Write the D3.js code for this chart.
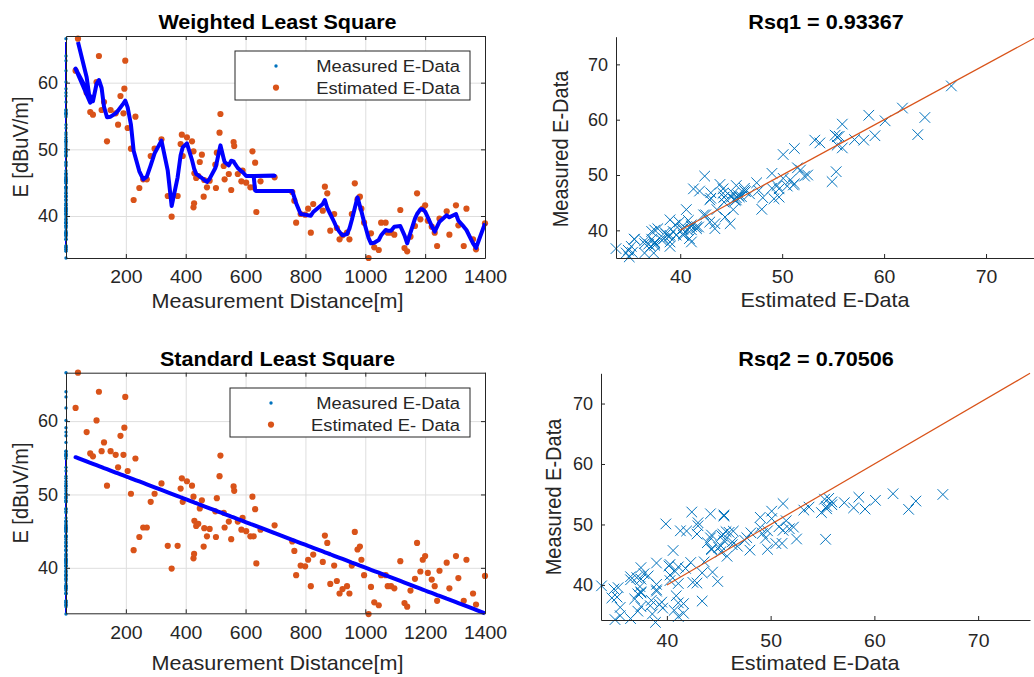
<!DOCTYPE html>
<html>
<head>
<meta charset="utf-8">
<script src="https://cdn.jsdelivr.net/npm/d3@7"></script>
<style>
  body { margin: 0; background: #fff; }
  svg text { font-family: "Liberation Sans", Arial, Helvetica, sans-serif; fill: #262626; }
</style>
</head>
<body>
<svg id="chart" width="1034" height="677"></svg>
<script>
// measurement points, in the order they were plotted
const distance = [
  40, 69, 81, 32, 90, 102, 110, 119, 127, 137,
  149, 166, 174, 182, 192, 195, 198, 206, 217, 226,
  232, 245, 258, 270, 283, 296, 319, 340, 353, 373,
  383, 387, 390, 404, 421, 426, 426, 428, 429, 435,
  442, 447, 454, 460, 462, 471, 480, 499, 501, 504,
  513, 516, 527, 530, 544, 552, 560, 562, 574, 586,
  590, 602, 616, 623, 697, 627, 632, 636, 650, 756,
  763, 769, 784, 799, 809, 818, 826, 858, 865, 873,
  883, 896, 905, 914, 924, 939, 947, 955, 965, 974,
  982, 987, 996, 1011, 1019, 1030, 1045, 1053, 1068, 1075,
  1086, 1097, 1117, 1131, 1140, 1151, 1166, 1173, 1184, 1192,
  1200, 1209, 1222, 1232, 1240, 1248, 1272, 1281, 1303, 1311,
  1329, 1338, 1360, 1370, 1400
];
const eData = [
  66.6, 58.5, 55.6, 61.8, 55.2, 60.1, 64.0, 55.9, 57.1, 51.2,
  55.9, 55.4, 53.7, 58.0, 55.4, 59.1, 63.3, 53.2, 50.1, 42.4,
  54.9, 44.2, 45.5, 45.5, 49.0, 50.1, 51.5, 43.0, 39.9, 43.0,
  50.8, 52.2, 49.0, 51.8, 51.2, 49.7, 41.3, 41.9, 46.4, 45.7,
  46.0, 48.1, 49.2, 42.9, 45.4, 44.3, 45.3, 47.7, 44.2, 49.5,
  52.5, 55.3, 47.5, 45.5, 46.3, 43.9, 51.1, 50.5, 46.3, 45.2,
  46.8, 45.0, 44.3, 49.7, 45.8, 44.3, 48.0, 40.6, 45.2, 43.6,
  42.3, 39.0, 40.3, 40.2, 41.1, 37.5, 41.8, 40.8, 44.4, 43.4,
  37.8, 40.3, 38.2, 36.5, 37.1, 37.5, 36.5, 40.3, 44.9, 42.5,
  42.9, 41.1, 39.0, 33.7, 37.4, 35.3, 34.9, 39.0, 39.0, 37.5,
  37.5, 37.2, 40.9, 35.2, 34.7, 36.9, 38.5, 43.4, 39.5, 41.1,
  41.6, 39.3, 38.4, 37.5, 35.5, 39.6, 40.7, 37.2, 41.6, 38.6,
  35.5, 41.1, 36.5, 35.0, 38.9
];
// weighted least square estimate at each point
const wlsFit = [
  66.1, 60.8, 57.0, 62.1, 57.2, 59.8, 60.4, 59.2, 56.4, 54.8,
  54.9, 55.4, 55.8, 56.3, 56.9, 57.1, 57.3, 56.3, 53.7, 49.8,
  48.8, 46.7, 45.5, 45.9, 47.6, 49.4, 51.3, 46.8, 41.5, 45.8,
  49.1, 49.8, 50.3, 50.9, 48.4, 47.5, 47.5, 47.1, 47.0, 46.3,
  46.1, 45.9, 45.7, 45.5, 45.4, 45.1, 45.6, 47.2, 47.5, 48.1,
  50.0, 50.6, 48.6, 48.1, 47.6, 48.3, 48.2, 48.0, 47.2, 46.7,
  46.6, 46.0, 46.0, 46.0, 46.05, 46.0, 43.8, 43.75, 43.75, 43.75,
  42.8, 41.9, 40.3, 40.2, 40.1, 40.05, 40.6, 41.8, 42.4, 41.2,
  40.3, 39.1, 38.2, 37.6, 37.1, 37.3, 38.1, 39.4, 41.2, 42.8,
  41.5, 40.7, 39.1, 36.7, 35.9, 36.0, 36.4, 37.1, 37.9, 37.8,
  37.8, 38.4, 38.5, 37.1, 35.9, 37.5, 39.6, 40.3, 41.0, 41.0,
  40.65, 39.8, 38.5, 37.65, 38.4, 39.15, 40.1, 39.8, 40.3, 39.3,
  38.4, 37.9, 35.9, 35.2, 38.9
];
// standard least square estimate at each point
const slsFit = [
  54.96, 54.50, 54.32, 55.08, 54.18, 53.99, 53.87, 53.73, 53.60, 53.45,
  53.26, 52.99, 52.87, 52.75, 52.59, 52.55, 52.50, 52.38, 52.20, 52.06,
  51.97, 51.77, 51.57, 51.38, 51.18, 50.97, 50.62, 50.29, 50.09, 49.78,
  49.62, 49.56, 49.51, 49.29, 49.03, 48.95, 48.95, 48.92, 48.90, 48.81,
  48.70, 48.62, 48.51, 48.42, 48.39, 48.25, 48.11, 47.82, 47.79, 47.74,
  47.60, 47.55, 47.38, 47.33, 47.12, 46.99, 46.87, 46.84, 46.65, 46.46,
  46.40, 46.21, 45.99, 45.89, 44.74, 45.83, 45.75, 45.69, 45.47, 43.82,
  43.71, 43.62, 43.38, 43.15, 42.99, 42.86, 42.73, 42.23, 42.12, 42.00,
  41.85, 41.64, 41.50, 41.36, 41.21, 40.97, 40.85, 40.72, 40.57, 40.43,
  40.30, 40.23, 40.09, 39.85, 39.73, 39.56, 39.33, 39.20, 38.97, 38.86,
  38.69, 38.52, 38.21, 37.99, 37.85, 37.68, 37.44, 37.33, 37.16, 37.04,
  36.91, 36.77, 36.57, 36.42, 36.29, 36.17, 35.79, 35.66, 35.31, 35.19,
  34.91, 34.77, 34.43, 34.27, 33.80
];

const distTicks = [200, 400, 600, 800, 1000, 1200, 1400];
const eTicks = [40, 50, 60];
const scatterTicks = [40, 50, 60, 70];
const refLine = [40, 75];
const rsqValues = ["0.93367", "0.70506"];
const legendWls = ["Measured E-Data", "Estimated E-Data"];
const legendSls = ["Measured E-Data", "Estimated E- Data"];

const svg = d3.select("#chart");
const axisColor = "#262626";
const SX = 1.08; // the source picture is a little wider than tall
const fmt = d3.format("d");

// text helper, slightly stretched horizontally
function label(g, x, y, str, size, opts = {}) {
  const tf = opts.rotate
    ? `translate(${x},${y}) rotate(-90) scale(1,${SX})`
    : `translate(${x},${y}) scale(${SX},1)`;
  const t = g.append("text")
    .attr("transform", tf)
    .attr("text-anchor", opts.anchor || "middle")
    .style("font-size", size + "px")
    .text(str);
  if (opts.bold) t.style("font-weight", "bold").style("fill", "#000");
  return t;
}

function styleAxis(sel, labelY) {
  sel.select(".domain").attr("stroke", axisColor);
  sel.selectAll(".tick line").attr("stroke", axisColor);
  sel.selectAll(".tick text")
    .style("font-size", "18px")
    .attr("fill", axisColor);
  if (labelY !== undefined) {
    sel.selectAll(".tick text").attr("dy", null).attr("y", labelY)
      .attr("transform", `scale(${SX},1)`);
  }
  sel.attr("font-family", null).attr("font-size", null);
}

/* ---------- distance panels (left column) ---------- */
function drawFitPanel(cfg) {
  const g = svg.append("g");
  const x = d3.scaleLinear().domain([0, 1400]).range([cfg.left, cfg.right]);
  const y = d3.scaleLinear().domain(cfg.yDomain).range([cfg.bottom, cfg.top]);
  const h = cfg.bottom - cfg.top, w = cfg.right - cfg.left;

  // grid
  g.append("g").attr("transform", `translate(0,${cfg.bottom})`)
    .call(d3.axisBottom(x).tickValues(distTicks).tickSize(-h).tickFormat(""))
    .call(a => a.select(".domain").remove())
    .selectAll("line").attr("stroke", "#dedede");
  g.append("g").attr("transform", `translate(${cfg.left},0)`)
    .call(d3.axisLeft(y).tickValues(eTicks).tickSize(-w).tickFormat(""))
    .call(a => a.select(".domain").remove())
    .selectAll("line").attr("stroke", "#dedede");

  // fit values stacked on the y axis
  const ext = d3.extent(cfg.fit);
  g.append("line")
    .attr("x1", x(0)).attr("x2", x(0))
    .attr("y1", y(ext[0])).attr("y2", y(ext[1]))
    .attr("stroke", "#0000ff").attr("stroke-width", 2);

  // measured values stacked on the y axis
  g.selectAll(".meas").data(eData).join("circle")
    .attr("class", "meas")
    .attr("cx", x(0)).attr("cy", d => y(d))
    .attr("r", 1.7).attr("fill", "#0072BD");

  g.selectAll(".est").data(eData).join("circle")
    .attr("class", "est")
    .attr("cx", (d, i) => x(distance[i])).attr("cy", d => y(d))
    .attr("r", 3.1).attr("fill", "#D95319");

  const line = d3.line().x((d, i) => x(distance[i])).y(d => y(d));
  g.append("path").datum(cfg.fit)
    .attr("d", line)
    .attr("fill", "none")
    .attr("stroke", "#0000ff")
    .attr("stroke-width", 4)
    .attr("stroke-linejoin", "round");

  // box with inward ticks on all sides
  g.append("g").attr("transform", `translate(0,${cfg.bottom})`)
    .call(d3.axisBottom(x).tickValues(distTicks).tickFormat(fmt).tickSize(-4).tickSizeOuter(0).tickPadding(0))
    .call(a => styleAxis(a, cfg.xLabelOffset));
  g.append("g").attr("transform", `translate(0,${cfg.top})`)
    .call(d3.axisTop(x).tickValues(distTicks).tickSize(-4).tickSizeOuter(0).tickFormat(""))
    .call(a => styleAxis(a));
  g.append("g").attr("transform", `translate(${cfg.left},0)`)
    .call(d3.axisLeft(y).tickValues(eTicks).tickFormat(fmt).tickSize(-4).tickSizeOuter(0).tickPadding(8))
    .call(a => styleAxis(a));
  g.append("g").attr("transform", `translate(${cfg.right},0)`)
    .call(d3.axisRight(y).tickValues(eTicks).tickSize(-4).tickSizeOuter(0).tickFormat(""))
    .call(a => styleAxis(a));

  label(g, (cfg.left + cfg.right) / 2 + 2, cfg.titleY, cfg.title, 20, { bold: true });
  label(g, (cfg.left + cfg.right) / 2 + 2, cfg.xTitleY, "Measurement Distance[m]", 20);
  label(g, 28, (cfg.top + cfg.bottom) / 2, "E [dBuV/m]", 20, { rotate: true });

  // legend
  const lg = g.append("g");
  lg.append("rect")
    .attr("x", cfg.legend.x).attr("y", cfg.legend.y)
    .attr("width", cfg.legend.w).attr("height", cfg.legend.h)
    .attr("fill", "#fff").attr("stroke", axisColor).attr("stroke-width", 1);
  cfg.legendText.forEach((txt, i) => {
    const ry = cfg.legend.y + 15 + i * 21.6;
    lg.append("circle")
      .attr("cx", cfg.legend.x + 41).attr("cy", ry)
      .attr("r", i === 0 ? 1.7 : 3.1)
      .attr("fill", i === 0 ? "#0072BD" : "#D95319");
    label(lg, cfg.legend.x + cfg.legend.w - 10, ry + 6, txt, 17, { anchor: "end" });
  });
}

/* ---------- scatter panels (right column) ---------- */
function drawScatterPanel(cfg) {
  const g = svg.append("g");
  const x = d3.scaleLinear().domain(cfg.xDomain).range([cfg.left, cfg.right]);
  const y = d3.scaleLinear().domain(cfg.yDomain).range([cfg.bottom, cfg.top]);
  const s = 5.3;

  g.selectAll(".xm").data(eData).join("path")
    .attr("class", "xm")
    .attr("d", (d, i) => {
      const cx = x(d), cy = y(cfg.fit[i]);
      return `M${cx - s},${cy - s}L${cx + s},${cy + s}M${cx - s},${cy + s}L${cx + s},${cy - s}`;
    })
    .attr("fill", "none")
    .attr("stroke", "#0072BD")
    .attr("stroke-width", 1);

  g.append("line")
    .attr("x1", x(refLine[0])).attr("y1", y(refLine[0]))
    .attr("x2", x(refLine[1])).attr("y2", y(refLine[1]))
    .attr("stroke", "#D95319").attr("stroke-width", 1.2);

  g.append("g").attr("transform", `translate(0,${cfg.bottom})`)
    .call(d3.axisBottom(x).tickValues(scatterTicks).tickFormat(fmt).tickSize(-4).tickSizeOuter(0).tickPadding(0))
    .call(a => styleAxis(a, cfg.xLabelOffset));
  g.append("g").attr("transform", `translate(${cfg.left},0)`)
    .call(d3.axisLeft(y).tickValues(scatterTicks).tickFormat(fmt).tickSize(-4).tickSizeOuter(0).tickPadding(8))
    .call(a => styleAxis(a));

  label(g, cfg.titleX, cfg.titleY, cfg.title, 20, { bold: true });
  label(g, cfg.xTitleX, cfg.xTitleY, "Estimated E-Data", 20);
  label(g, cfg.yTitleX, cfg.yTitleY, "Measured E-Data", 20, { rotate: true });
}

drawFitPanel({
  left: 66, right: 485, top: 36, bottom: 258,
  yDomain: [33.7, 67], fit: wlsFit,
  title: "Weighted Least Square", titleY: 29, xTitleY: 308, xLabelOffset: 25,
  legend: { x: 235, y: 51, w: 235, h: 49 }, legendText: legendWls
});
drawFitPanel({
  left: 66, right: 485, top: 372.7, bottom: 613.3,
  yDomain: [33.8, 66.6], fit: slsFit,
  title: "Standard Least Square", titleY: 366, xTitleY: 670, xLabelOffset: 26,
  legend: { x: 230, y: 388, w: 240, h: 49 }, legendText: legendSls
});
drawScatterPanel({
  left: 616, right: 1037, top: 36.7, bottom: 258,
  xDomain: [33.7, 75], yDomain: [35, 75], fit: wlsFit,
  title: "Rsq1 = " + rsqValues[0], titleX: 826, titleY: 29,
  xTitleX: 825, xTitleY: 307, yTitleX: 568, yTitleY: 149, xLabelOffset: 25
});
drawScatterPanel({
  left: 601, right: 1030, top: 373.3, bottom: 620,
  xDomain: [33.65, 75], yDomain: [34.2, 75], fit: slsFit,
  title: "Rsq2 = " + rsqValues[1], titleX: 816, titleY: 366,
  xTitleX: 815, xTitleY: 670, yTitleX: 561, yTitleY: 497, xLabelOffset: 27
});
</script>
</body>
</html>
